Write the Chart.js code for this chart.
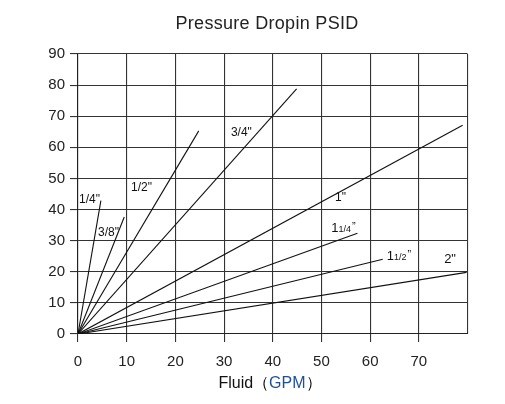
<!DOCTYPE html>
<html><head><meta charset="utf-8">
<script src="https://cdn.jsdelivr.net/npm/chart.js@4/dist/chart.umd.min.js"></script>
<style>html,body{margin:0;padding:0;background:#fff}#wrap{width:505px;height:404px}</style>
</head><body><div id="wrap"><canvas id="c" width="505" height="404"></canvas></div>
<script>
// Pipe sizes and the end point of each pressure-drop line (flow GPM, drop PSID)
const sizes = ['1/4"', '3/8"', '1/2"', '3/4"', '1"', '1 1/4"', '1 1/2"', '2"'];
const endFlow = [4.7, 9.5, 24.8, 44.9, 79.0, 57.4, 62.6, 79.8];
const endDrop = [42.9, 37.6, 65.3, 78.8, 67.1, 32.4, 24.0, 19.8];
// label anchor (data units)
const labelFlow = [0.2, 4.1, 10.9, 31.4, 52.8, 52.0, 63.4, 75.2];
const labelDrop = [43.2, 32.6, 47.1, 64.7, 43.8, 33.9, 24.9, 24.1];
const xTicks = [0, 10, 20, 30, 40, 50, 60, 70, 80];
const yTicks = [0, 10, 20, 30, 40, 50, 60, 70, 80, 90];
const titleText = 'Pressure Dropin PSID';

const FONT = "'Liberation Sans', Arial, sans-serif";

const datasets = sizes.map((s, i) => ({
  label: s,
  data: [{x: 0, y: 0}, {x: endFlow[i], y: endDrop[i]}],
  showLine: true,
  borderColor: '#111',
  borderWidth: 1.1,
  pointRadius: 0,
  fill: false
}));

const decor = {
  id: 'decor',
  afterDraw(chart) {
    const ctx = chart.ctx;
    const xs = chart.scales.x, ys = chart.scales.y;
    ctx.save();
    // title
    ctx.fillStyle = '#222';
    ctx.font = '18px ' + FONT;
    ctx.textAlign = 'center';
    ctx.textBaseline = 'alphabetic';
    if ('letterSpacing' in ctx) ctx.letterSpacing = '0.3px';
    ctx.fillText(titleText, 267, 29);
    if ('letterSpacing' in ctx) ctx.letterSpacing = '0px';
    // x-axis title with coloured unit
    const parts = [['Fluid', '#111'], ['（', '#111'], ['GPM', '#1f4e9a'], ['）', '#111']];
    ctx.font = '16px ' + FONT;
    const widths = parts.map(p => ctx.measureText(p[0]).width);
    const total = widths.reduce((a, b) => a + b, 0);
    let px = 270 - total / 2;
    ctx.textAlign = 'left';
    parts.forEach((p, i) => { ctx.fillStyle = p[1]; ctx.fillText(p[0], px, 388); px += widths[i]; });
    // line labels
    ctx.fillStyle = '#111';
    ctx.textBaseline = 'middle';
    sizes.forEach((s, i) => {
      let x = xs.getPixelForValue(labelFlow[i]);
      const y = ys.getPixelForValue(labelDrop[i]);
      if (s.indexOf(' ') > 0) {
        const whole = s.split(' ')[0];
        const frac = s.split(' ')[1].replace('"', '');
        ctx.font = '13px ' + FONT;
        ctx.fillText(whole, x, y);
        x += ctx.measureText(whole).width;
        ctx.font = '9px ' + FONT;
        ctx.fillText(frac, x, y + 1);
        x += ctx.measureText(frac).width + 1;
        ctx.font = '11px ' + FONT;
        ctx.fillText('\u201D', x, y - 2);
      } else {
        ctx.font = (s === '2"' ? '13px ' : '12px ') + FONT;
        ctx.fillText(s, x, y);
      }
    });
    ctx.restore();
  }
};

new Chart(document.getElementById('c'), {
  type: 'scatter',
  data: { datasets },
  options: {
    responsive: false,
    animation: false,
    layout: { padding: { top: 54, right: 37.5, left: 0, bottom: 0 } },
    plugins: { legend: { display: false }, tooltip: { enabled: false } },
    scales: {
      x: {
        type: 'linear', min: 0, max: 80,
        afterBuildTicks: s => { s.ticks = xTicks.map(v => ({value: v})); },
        afterFit: s => { s.height = 70; },
        ticks: { callback: v => (v === 80 ? '' : v), font: { size: 15, family: FONT }, color: '#222', padding: 11, maxRotation: 0 },
        grid: { color: '#333', lineWidth: 1.1, tickLength: 8, tickColor: c => (c.tick && c.tick.value === 80 ? 'rgba(0,0,0,0)' : '#333') },
        border: { color: '#222', width: 1.1 }
      },
      y: {
        type: 'linear', min: 0, max: 90,
        afterBuildTicks: s => { s.ticks = yTicks.map(v => ({value: v})); },
        afterFit: s => { s.width = 78; },
        ticks: { font: { size: 15, family: FONT }, color: '#222', padding: 5 },
        grid: { color: '#333', lineWidth: 1.1, tickLength: 8 },
        border: { color: '#222', width: 1.1 }
      }
    }
  },
  plugins: [decor]
});
</script></body></html>
